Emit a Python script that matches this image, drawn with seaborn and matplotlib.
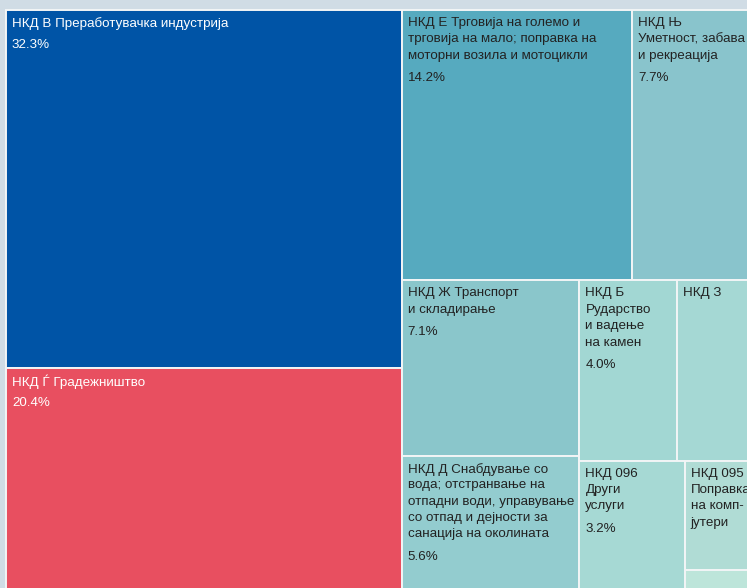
import numpy as np
import matplotlib
matplotlib.use("Agg")
import matplotlib.pyplot as plt
import seaborn as sns
from matplotlib.patches import Rectangle

# Data (share of total, %)
codes = ["НКД В", "НКД Ѓ", "НКД Е", "НКД Њ", "НКД Ж", "НКД Д",
         "НКД Б", "НКД З", "НКД 096", "НКД 095", "Останато"]
labels = [
    ["НКД В Преработувачка индустрија"],
    ["НКД Ѓ Градежништво"],
    ["НКД Е Трговија на големо и", "трговија на мало; поправка на",
     "моторни возила и мотоцикли"],
    ["НКД Њ", "Уметност, забава", "и рекреација"],
    ["НКД Ж Транспорт", "и складирање"],
    ["НКД Д Снабдување со", "вода; отстранвање на", "отпадни води, управување",
     "со отпад и дејности за", "санација на околината"],
    ["НКД Б", "Рударство", "и вадење", "на камен"],
    ["НКД З"],
    ["НКД 096", "Други", "услуги"],
    ["НКД 095", "Поправка", "на комп-", "јутери"],
    [],
]
shares = [32.3, 20.4, 14.2, 7.7, 7.1, 5.6, 4.0, 3.3, 3.2, 1.8, 0.4]
show_pct = [True, True, True, True, True, True, True, False, True, False, False]
colors = ["#0054a6", "#e84f60", "#56aabf", "#89c4cc", "#8ac6cb", "#93cccf",
          "#a2d7d3", "#a5d8d4", "#a6d9d4", "#b0dcd5", "#bde5da"]
text_colors = ["white", "white"] + ["#222222"] * 9


def squarify(values, x0, y0, x1, y1, ratio=(1 + 5 ** 0.5) / 2):
    # d3-style squarified layout
    rects = [None] * len(values)
    total = float(sum(values))
    i0 = 0
    n = len(values)
    while i0 < n:
        dx, dy = x1 - x0, y1 - y0
        i1 = i0
        s = values[i1]
        i1 += 1
        vmin = vmax = s
        alpha = max(dy / dx, dx / dy) / (total * ratio)
        beta = s * s * alpha
        best = max(vmax / beta, beta / vmin)
        while i1 < n:
            v = values[i1]
            s2 = s + v
            mn, mx = min(vmin, v), max(vmax, v)
            beta = s2 * s2 * alpha
            r = max(mx / beta, beta / mn)
            if r > best:
                break
            s, vmin, vmax, best = s2, mn, mx, r
            i1 += 1
        if dx < dy:
            # horizontal row along the top
            h = dy * s / total
            cx = x0
            for k in range(i0, i1):
                w = dx * values[k] / s
                rects[k] = (cx, y0, w, h)
                cx += w
            y0 += h
        else:
            # vertical column on the left
            w = dx * s / total
            cy = y0
            for k in range(i0, i1):
                h = dy * values[k] / s
                rects[k] = (x0, cy, w, h)
                cy += h
            x0 += w
        total -= s
        i0 = i1
    return rects


sns.set_theme(style="white")
plt.rcParams["font.family"] = ["Liberation Sans", "DejaVu Sans"]

fig = plt.figure(figsize=(7.47, 5.88), dpi=100)
fig.patch.set_facecolor("#d0dce5")
ax = fig.add_axes([0, 0, 1, 1])
ax.set_facecolor("#d0dce5")
ax.set_xlim(0, 747)
ax.set_ylim(588, 0)
ax.axis("off")

rects = squarify(shares, 6, 10, 6 + 751, 10 + 584)
line_h = 16.4
for k, (x, y, w, h) in enumerate(rects):
    ax.add_patch(Rectangle((x, y), w, h, facecolor=colors[k],
                           edgecolor="#f2f5f6", linewidth=1.4))
    ty = y + 7
    for line in labels[k]:
        ax.text(x + 6, ty, line, fontsize=9.6, color=text_colors[k],
                va="top", ha="left", clip_on=True)
        ty += line_h
    if show_pct[k]:
        ax.text(x + 6, ty + 6, f"{shares[k]:.1f}%", fontsize=9.6,
                color=text_colors[k], va="top", ha="left")

fig.savefig("out.png", dpi=100, facecolor=fig.get_facecolor())
